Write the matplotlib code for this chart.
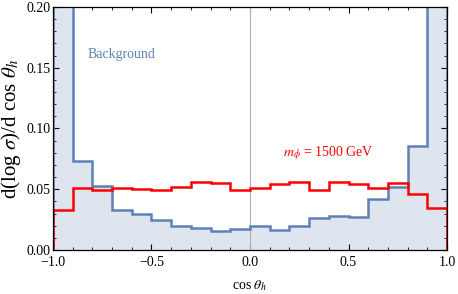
import numpy as np
import matplotlib
matplotlib.use("Agg")
import matplotlib.pyplot as plt
from matplotlib.ticker import MultipleLocator

plt.rcParams['font.family'] = ['Liberation Serif', 'DejaVu Serif']
plt.rcParams['mathtext.fontset'] = 'stix'

edges = np.round(np.linspace(-1.0, 1.0, 21), 2)
background = [0.30, 0.073, 0.053, 0.033, 0.030, 0.025, 0.020, 0.018, 0.0156, 0.0175,
              0.020, 0.0167, 0.020, 0.026, 0.028, 0.027, 0.042, 0.052, 0.086, 0.30]
signal = [0.0328, 0.051, 0.0494, 0.051, 0.050, 0.0494, 0.052, 0.0558, 0.055, 0.049,
          0.051, 0.054, 0.0556, 0.049, 0.056, 0.0547, 0.0514, 0.0553, 0.046, 0.0344]

fig = plt.figure(figsize=(4.58, 2.94), dpi=100)
ax = fig.add_axes([0.1157, 0.1497, 0.8603, 0.8265])

ax.stairs(background, edges, fill=True, color='#dfe5ef', zorder=1)
ax.axvline(0, color='#b0b0b0', lw=0.8, zorder=2)
ax.stairs(background, edges, color='#5e81b5', lw=1.8, zorder=3)
ax.stairs(signal, edges, color='#ff0000', lw=1.8, zorder=4)

ax.set_xlim(-1, 1)
ax.set_ylim(0, 0.20)
ax.xaxis.set_major_locator(MultipleLocator(0.5))
ax.xaxis.set_minor_locator(MultipleLocator(0.1))
ax.yaxis.set_major_locator(MultipleLocator(0.05))
ax.yaxis.set_minor_locator(MultipleLocator(0.01))
ax.xaxis.set_major_formatter(lambda v, p: f"{v:.1f}".replace('-', '\u2212'))
ax.yaxis.set_major_formatter(lambda v, p: f"{v:.2f}")
ax.tick_params(which='both', direction='in', top=True, right=True, labelsize=10)
ax.tick_params(axis='x', pad=4)
ax.tick_params(axis='y', pad=2)
ax.tick_params(which='major', length=4, width=0.8)
ax.tick_params(which='minor', length=2, width=0.6)
for s in ax.spines.values():
    s.set_linewidth(0.9)
    s.set_zorder(5)

ax.set_xlabel(r"cos $\theta_h$", fontsize=10, labelpad=7)
ax.set_ylabel(r"d(log $\sigma$)/d cos $\theta_h$", fontsize=15, labelpad=2)

ax.text(-0.827, 0.161, "Background", color='#5e81b5', fontsize=10, ha='left', va='center')
ax.text(0.396, 0.080, r"$m_\phi$ = 1500 GeV", color='#ff0000', fontsize=10, ha='center', va='center')

fig.savefig("out.png", dpi=100)
